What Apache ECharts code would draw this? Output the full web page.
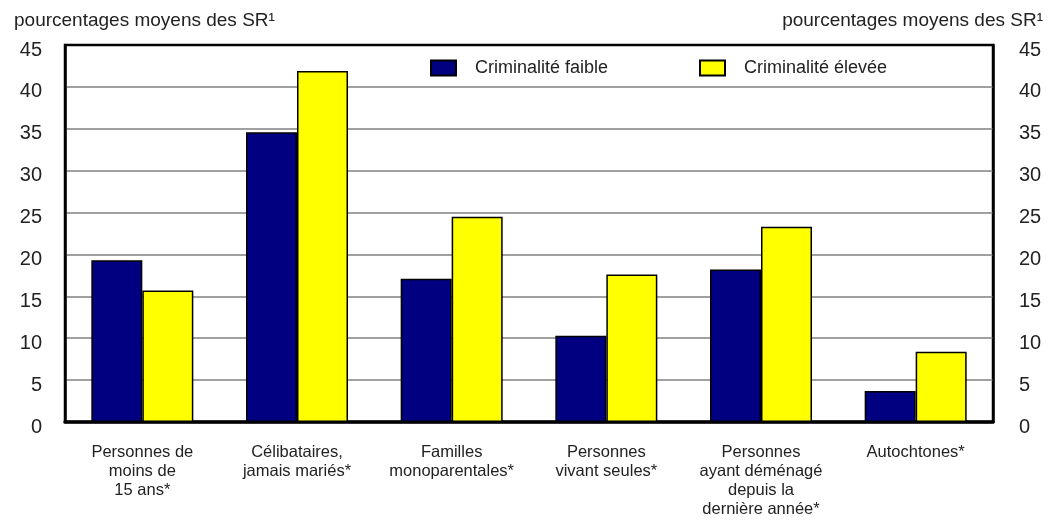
<!DOCTYPE html>
<html>
<head>
<meta charset="utf-8">
<script src="https://cdn.jsdelivr.net/npm/echarts@6/dist/echarts.min.js"></script>
<style>
  html, body { margin: 0; padding: 0; background: #fff; }
  #chart { width: 1056px; height: 520px; }
</style>
</head>
<body>
<div id="chart"></div>
<script>
// catégories (axe x)
const categories = [
  "Personnes de\nmoins de\n15 ans*",
  "Célibataires,\njamais mariés*",
  "Familles\nmonoparentales*",
  "Personnes\nvivant seules*",
  "Personnes\nayant déménagé\ndepuis la\ndernière année*",
  "Autochtones*"
];
// séries
const seriesNames = ["Criminalité faible", "Criminalité élevée"];
const faible = [19.3, 34.6, 17.1, 10.3, 18.2, 3.7];
const elevee = [15.7, 41.9, 24.5, 17.6, 23.3, 8.4];
// axe y
const yMin = 0;
const yMax = 45;
const yStep = 5;
const axisTitle = "pourcentages moyens des SR\u00b9";

const font = "Liberation Sans";
const chart = echarts.init(document.getElementById("chart"));

const yAxisBase = {
  type: "value",
  min: yMin,
  max: yMax,
  interval: yStep,
  axisLine: { show: true, lineStyle: { color: "#000", width: 2.5 } },
  axisTick: { show: false },
  // labels légèrement sous la ligne, comme dans l'original
  axisLabel: { color: "#222", fontFamily: font, fontSize: 20, verticalAlign: "top", lineHeight: 10 }
};

const legendText = { fontFamily: font, fontSize: 18, color: "#222", padding: [0, 0, 0, 14] };

chart.setOption({
  animation: false,
  backgroundColor: "#fff",
  grid: {
    left: 65, right: 63, top: 45, bottom: 98,
    show: true, borderColor: "#000", borderWidth: 2.5
  },
  legend: [
    {
      data: [seriesNames[0]], left: 430, top: 59, padding: 0,
      icon: "rect", itemWidth: 25, itemHeight: 15, textStyle: legendText
    },
    {
      data: [seriesNames[1]], left: 699, top: 59, padding: 0,
      icon: "rect", itemWidth: 25, itemHeight: 15, textStyle: legendText
    }
  ],
  graphic: [
    {
      type: "text", left: 14, top: 11,
      style: { text: axisTitle, fontFamily: font, fontSize: 19, fill: "#222" }
    },
    {
      type: "text", right: 13, top: 11,
      style: { text: axisTitle, fontFamily: font, fontSize: 19, fill: "#222" }
    }
  ],
  xAxis: {
    type: "category",
    data: categories,
    axisLine: { show: true, lineStyle: { color: "#000", width: 3.5 } },
    axisTick: { show: false },
    axisLabel: {
      interval: 0, color: "#222", fontFamily: font, fontSize: 16.5,
      lineHeight: 19, margin: 21, align: "center"
    }
  },
  yAxis: [
    Object.assign({}, yAxisBase, {
      position: "left",
      splitLine: {
        show: true, showMinLine: false, showMaxLine: false,
        lineStyle: { color: "#a0a0a0", width: 2 }
      },
      axisLabel: Object.assign({}, yAxisBase.axisLabel, { margin: 23 })
    }),
    Object.assign({}, yAxisBase, {
      position: "right",
      splitLine: { show: false },
      axisLabel: Object.assign({}, yAxisBase.axisLabel, { margin: 26 })
    })
  ],
  series: [
    {
      name: seriesNames[0], type: "bar", data: faible,
      barWidth: 51, barGap: "0%",
      itemStyle: { color: "#000080", borderColor: "#000", borderWidth: 1.5 }
    },
    {
      name: seriesNames[1], type: "bar", data: elevee,
      barWidth: 51, barGap: "0%",
      itemStyle: { color: "#ffff00", borderColor: "#000", borderWidth: 1.5 }
    }
  ]
});
</script>
</body>
</html>
